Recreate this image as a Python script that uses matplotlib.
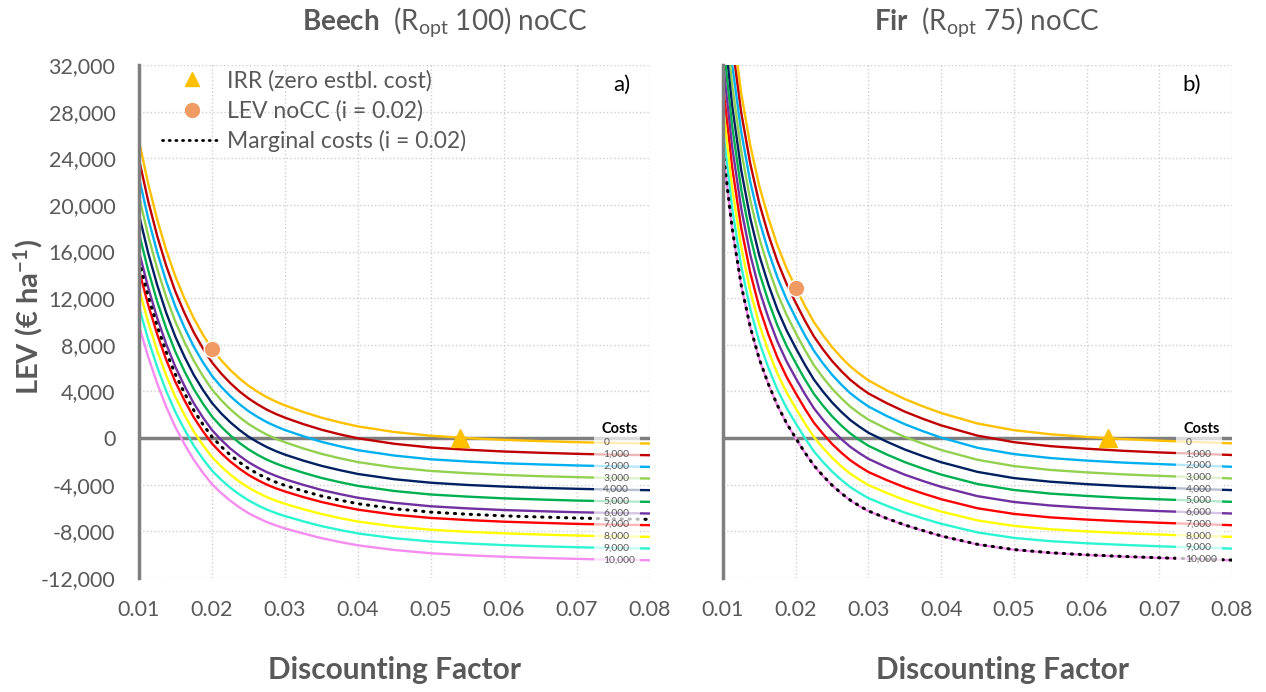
import matplotlib
matplotlib.use('Agg')
import matplotlib.pyplot as plt
from matplotlib.lines import Line2D
from matplotlib.patches import Rectangle
from matplotlib.ticker import FuncFormatter

plt.rcParams['font.family'] = ['Lato', 'DejaVu Sans']
plt.rcParams['mathtext.fontset'] = 'custom'
plt.rcParams['mathtext.rm'] = 'Lato'
plt.rcParams['mathtext.bf'] = 'Lato:bold'
plt.rcParams['mathtext.it'] = 'Lato:italic'

# discount rate grid
rate = [0.010, 0.01125, 0.0125, 0.01375, 0.015, 0.01625, 0.0175, 0.01875, 0.020, 0.02125,
        0.0225, 0.02375, 0.025, 0.02625, 0.0275, 0.02875, 0.030, 0.0325, 0.035, 0.0375,
        0.040, 0.045, 0.050, 0.055, 0.060, 0.065, 0.070, 0.075, 0.080]

costs = [0, 1000, 2000, 3000, 4000, 5000, 6000, 7000, 8000, 9000, 10000]
cost_labels = ['0', '1,000', '2,000', '3,000', '4,000', '5,000', '6,000', '7,000', '8,000', '9,000', '10,000']
cost_colors = ['#FFC000', '#C00000', '#00B0F0', '#92D050', '#002060', '#00B050',
               '#7030A0', '#FF0000', '#FFFF00', '#2CF5D2', '#F58CF0']

# Beech (Ropt 100) LEV by establishment cost
beech_c0 = [25500, 21840, 18730, 16080, 13830, 11950, 10280, 8880, 7650, 6680, 5840, 5120, 4490, 3970, 3510, 3130, 2800, 2240, 1750, 1350, 1000, 520, 200, 0, -150, -260, -350, -420, -470]
beech_c1 = [23910, 20350, 17320, 14740, 12540, 10700, 9070, 7700, 6490, 5540, 4720, 4010, 3400, 2890, 2440, 2070, 1750, 1200, 720, 320, -20, -490, -810, -1000, -1150, -1260, -1350, -1420, -1470]
beech_c2 = [22330, 18870, 15920, 13390, 11250, 9450, 7850, 6510, 5330, 4400, 3600, 2910, 2310, 1810, 1370, 1010, 690, 160, -320, -700, -1040, -1500, -1820, -2010, -2160, -2260, -2350, -2420, -2470]
beech_c3 = [20740, 17380, 14510, 12050, 9960, 8200, 6640, 5330, 4170, 3260, 2480, 1800, 1210, 730, 300, -60, -360, -890, -1350, -1730, -2060, -2520, -2820, -3010, -3160, -3270, -3350, -3420, -3470]
beech_c4 = [19150, 15900, 13110, 10710, 8660, 6950, 5420, 4140, 3010, 2120, 1360, 700, 120, -350, -770, -1120, -1420, -1930, -2380, -2750, -3080, -3530, -3830, -4020, -4160, -4270, -4350, -4420, -4470]
beech_c5 = [17570, 14410, 11700, 9370, 7370, 5700, 4210, 2960, 1850, 980, 230, -410, -970, -1440, -1850, -2180, -2470, -2970, -3420, -3780, -4100, -4540, -4840, -5020, -5170, -5270, -5360, -5420, -5470]
beech_c6 = [15980, 12930, 10290, 8020, 6080, 4450, 2990, 1770, 690, -150, -890, -1510, -2070, -2520, -2920, -3240, -3530, -4010, -4450, -4800, -5120, -5550, -5850, -6030, -6170, -6270, -6360, -6420, -6470]
beech_c7 = [14390, 11440, 8890, 6680, 4790, 3210, 1780, 590, -470, -1290, -2010, -2620, -3160, -3600, -3990, -4310, -4580, -5060, -5480, -5830, -6140, -6570, -6850, -7030, -7170, -7270, -7360, -7420, -7470]
beech_c8 = [12810, 9960, 7480, 5340, 3500, 1960, 570, -600, -1630, -2430, -3130, -3730, -4250, -4680, -5060, -5370, -5640, -6100, -6510, -6860, -7160, -7580, -7860, -8040, -8170, -8270, -8360, -8430, -8470]
beech_c9 = [11220, 8470, 6080, 4000, 2210, 710, -650, -1780, -2790, -3570, -4250, -4830, -5340, -5760, -6130, -6430, -6690, -7140, -7550, -7880, -8180, -8590, -8870, -9040, -9180, -9280, -9360, -9430, -9470]
beech_c10 = [9630, 6990, 4670, 2650, 920, -540, -1860, -2970, -3950, -4710, -5370, -5940, -6440, -6840, -7200, -7490, -7750, -8180, -8580, -8910, -9200, -9600, -9880, -10050, -10180, -10280, -10360, -10430, -10480]
beech_marginal = [15190, 12190, 9590, 7350, 5440, 3830, 2390, 1180, 110, -720, -1450, -2070, -2610, -3060, -3450, -3780, -4060, -4540, -4970, -5320, -5630, -6060, -6350, -6530, -6670, -6770, -6860, -6930, -6970]
beech_irr = 0.054
beech_lev_at_002 = 7600

# Fir (Ropt 75) LEV by establishment cost
fir_c0 = [43600, 35600, 29600, 25100, 21600, 18850, 16500, 14550, 12900, 11350, 9950, 8820, 7800, 6930, 6150, 5520, 4950, 4100, 3350, 2720, 2150, 1250, 680, 330, 100, -80, -220, -340, -450]
fir_c1 = [41700, 33840, 27950, 23540, 20110, 17420, 15130, 13220, 11610, 10090, 8720, 7610, 6610, 5760, 5000, 4380, 3830, 3000, 2270, 1650, 1090, 210, -350, -690, -910, -1090, -1230, -1340, -1450]
fir_c2 = [39800, 32080, 26300, 21980, 18630, 16000, 13750, 11890, 10310, 8830, 7490, 6400, 5430, 4600, 3850, 3250, 2710, 1900, 1190, 590, 40, -830, -1370, -1710, -1930, -2100, -2230, -2350, -2460]
fir_c3 = [37890, 30320, 24650, 20420, 17140, 14570, 12380, 10560, 9020, 7570, 6250, 5200, 4240, 3430, 2700, 2110, 1580, 800, 100, -480, -1020, -1860, -2400, -2730, -2940, -3110, -3240, -3350, -3460]
fir_c4 = [35990, 28560, 23000, 18860, 15650, 13150, 11000, 9230, 7730, 6310, 5020, 3990, 3060, 2260, 1550, 980, 460, -300, -980, -1550, -2070, -2900, -3430, -3740, -3950, -4120, -4250, -4360, -4460]
fir_c5 = [34090, 26800, 21350, 17300, 14170, 11720, 9630, 7900, 6440, 5050, 3790, 2780, 1870, 1090, 400, -160, -660, -1400, -2060, -2620, -3130, -3940, -4450, -4760, -4960, -5130, -5250, -5360, -5470]
fir_c6 = [32190, 25030, 19700, 15740, 12680, 10300, 8260, 6570, 5140, 3790, 2560, 1570, 680, -70, -750, -1290, -1780, -2500, -3140, -3680, -4180, -4980, -5480, -5780, -5980, -6130, -6260, -6370, -6470]
fir_c7 = [30290, 23270, 18050, 14180, 11190, 8870, 6880, 5240, 3850, 2530, 1320, 370, -500, -1240, -1900, -2430, -2910, -3600, -4220, -4750, -5240, -6020, -6500, -6800, -6990, -7140, -7260, -7370, -7470]
fir_c8 = [28390, 21510, 16400, 12620, 9710, 7450, 5510, 3910, 2560, 1270, 90, -840, -1690, -2410, -3050, -3560, -4030, -4700, -5310, -5820, -6300, -7060, -7530, -7820, -8000, -8150, -8270, -8380, -8470]
fir_c9 = [26480, 19750, 14750, 11060, 8220, 6020, 4130, 2580, 1270, 10, -1140, -2050, -2870, -3570, -4200, -4700, -5150, -5800, -6390, -6890, -7350, -8090, -8560, -8840, -9020, -9160, -9280, -9380, -9480]
fir_c10 = [24580, 17990, 13100, 9500, 6730, 4600, 2760, 1250, -30, -1250, -2370, -3260, -4060, -4740, -5350, -5840, -6270, -6900, -7470, -7950, -8410, -9130, -9580, -9850, -10030, -10170, -10280, -10380, -10480]
fir_marginal = [24620, 18030, 13130, 9530, 6760, 4620, 2790, 1270, 0, -1230, -2340, -3230, -4040, -4720, -5320, -5810, -6250, -6880, -7450, -7930, -8390, -9110, -9560, -9830, -10010, -10150, -10260, -10360, -10460]
fir_irr = 0.063
fir_lev_at_002 = 12900

beech_curves = [beech_c0, beech_c1, beech_c2, beech_c3, beech_c4, beech_c5,
                beech_c6, beech_c7, beech_c8, beech_c9, beech_c10]
fir_curves = [fir_c0, fir_c1, fir_c2, fir_c3, fir_c4, fir_c5,
              fir_c6, fir_c7, fir_c8, fir_c9, fir_c10]

GREY = '#595959'
W, H = 1266, 692
fig = plt.figure(figsize=(W / 100, H / 100), dpi=100)
ax1 = fig.add_axes([139 / W, 1 - 578 / H, 511 / W, 513 / H])
ax2 = fig.add_axes([723 / W, 1 - 578 / H, 509 / W, 513 / H])


def draw_panel(ax, curves, marginal, irr, lev002, tag, tag_x):
    ax.set_xlim(0.01, 0.08)
    ax.set_ylim(-12000, 32000)
    ax.set_xticks([0.01, 0.02, 0.03, 0.04, 0.05, 0.06, 0.07, 0.08])
    ax.set_yticks(range(-12000, 32001, 4000))
    ax.xaxis.set_major_formatter(FuncFormatter(lambda v, p: f"{v:.2f}"))
    ax.yaxis.set_major_formatter(FuncFormatter(lambda v, p: f"{v:,.0f}"))
    ax.grid(True, color='#CFCFCF', linestyle=':', linewidth=1)
    ax.set_axisbelow(True)
    for s in ['top', 'right', 'bottom']:
        ax.spines[s].set_visible(False)
    ax.spines['left'].set_color('#7F7F7F')
    ax.spines['left'].set_linewidth(2.5)
    ax.tick_params(length=0, labelsize=15.5, labelcolor=GREY)
    ax.tick_params(axis='x', pad=16)
    ax.tick_params(axis='y', pad=17)

    ax.axhline(0, color='#7F7F7F', lw=2.5, zorder=2)
    for vals, col in zip(curves, cost_colors):
        ax.plot(rate, vals, color=col, lw=1.7, zorder=2.2)
    ax.plot(rate, marginal, color='black', lw=2.2, linestyle=(0, (0.4, 2.2)),
            dash_capstyle='round', zorder=2.4)

    # faded band behind the cost labels
    ax.add_patch(Rectangle((0.0723, -11100), 0.0063, 11400, facecolor='white',
                           edgecolor='none', alpha=0.72, zorder=3))
    ax.text(0.0733, 750, 'Costs', fontsize=10.5, fontweight='bold', color='black',
            ha='left', va='center', zorder=4)
    for vals, lab in zip(curves, cost_labels):
        ax.text(0.0736, vals[-2], lab, fontsize=7.5, color=GREY, ha='left',
                va='center', zorder=4)

    ax.plot([irr], [0], marker='^', markersize=13, color='#FFC000', zorder=5)
    ax.plot([0.02], [lev002], marker='o', markersize=12, color='#F19B64',
            markeredgecolor='white', markeredgewidth=1, zorder=5)
    ax.text(tag_x, 30300, tag, fontsize=16, color='black', ha='center', va='center')


draw_panel(ax1, beech_curves, beech_marginal, beech_irr, beech_lev_at_002, 'a)', 0.0762)
draw_panel(ax2, fir_curves, fir_marginal, fir_irr, fir_lev_at_002, 'b)', 0.0745)
ax2.tick_params(labelleft=False)

handles = [
    Line2D([], [], linestyle='none', marker='^', markersize=10, color='#FFC000'),
    Line2D([], [], linestyle='none', marker='o', markersize=10, color='#F19B64'),
    Line2D([], [], color='black', lw=2, linestyle=(0, (0.4, 2.0)), dash_capstyle='round'),
]
leg = ax1.legend(handles, ['IRR (zero estbl. cost)', 'LEV noCC (i = 0.02)', 'Marginal costs (i = 0.02)'],
                 loc='upper left', bbox_to_anchor=(0.04, 0.995), frameon=False,
                 fontsize=16.5, handlelength=2.6, handletextpad=0.25, labelspacing=0.38,
                 borderaxespad=0, borderpad=0.1)
for t in leg.get_texts():
    t.set_color(GREY)

fig.text(445 / W, 1 - 22 / H, r"$\mathbf{Beech}$  (R$_{\mathrm{opt}}$ 100) noCC",
         ha='center', va='center', fontsize=20, color=GREY)
fig.text(987 / W, 1 - 22 / H, r"$\mathbf{Fir}$  (R$_{\mathrm{opt}}$ 75) noCC",
         ha='center', va='center', fontsize=20, color=GREY)
fig.text(394 / W, 1 - 670 / H, 'Discounting Factor', ha='center', va='center',
         fontsize=21.5, fontweight='bold', color=GREY)
fig.text(1002 / W, 1 - 670 / H, 'Discounting Factor', ha='center', va='center',
         fontsize=21.5, fontweight='bold', color=GREY)
fig.text(28 / W, 1 - 317 / H, r"LEV (€ ha$^{\mathbf{-1}}$)", ha='center', va='center',
         rotation=90, fontsize=21, fontweight='bold', color=GREY)

fig.savefig('out.png', dpi=100, facecolor='white')
